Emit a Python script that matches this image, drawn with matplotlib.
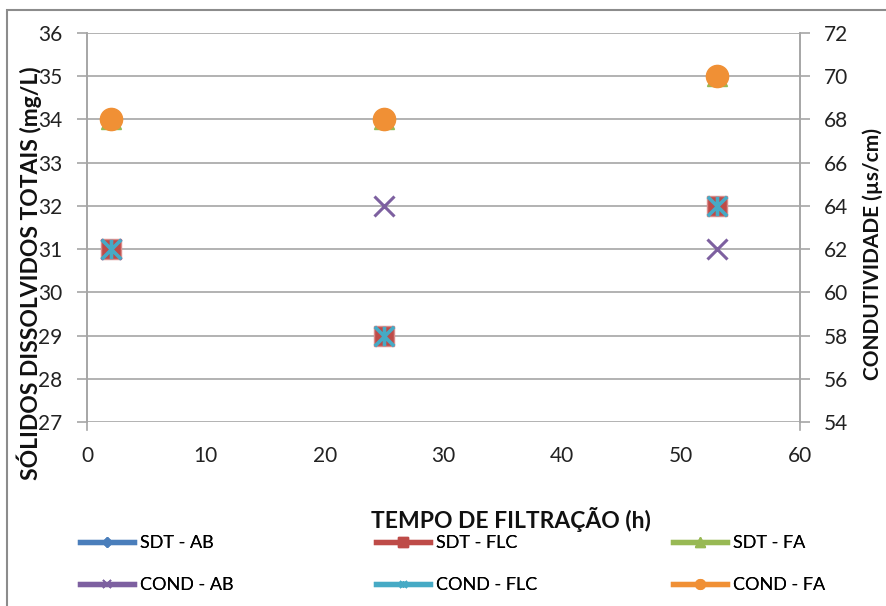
import matplotlib
matplotlib.use("Agg")
import matplotlib.pyplot as plt
from matplotlib.lines import Line2D
from matplotlib.patches import Rectangle
from matplotlib.path import Path

plt.rcParams['font.family'] = ['Lato', 'DejaVu Sans']

tempo = [2, 25, 53]
sdt_ab = [31, 29, 32]
sdt_flc = [31, 29, 32]
sdt_fa = [34, 34, 35]
cond_ab = [62, 64, 62]
cond_flc = [62, 58, 64]
cond_fa = [68, 68, 70]

x_ticks = [0, 10, 20, 30, 40, 50, 60]
y1_ticks = [27, 28, 29, 30, 31, 32, 33, 34, 35, 36]
y2_ticks = [54, 56, 58, 60, 62, 64, 66, 68, 70, 72]

c_blue = '#4A7EBB'
c_red = '#BE4B48'
c_green = '#98B954'
c_purple = '#7D60A0'
c_cyan = '#46AAC5'
c_orange = '#F09035'
grid_c = '#A6A6A6'

star = Path([(-1, -1), (1, 1), (-1, 1), (1, -1), (0, -1), (0, 1)],
            [Path.MOVETO, Path.LINETO, Path.MOVETO, Path.LINETO, Path.MOVETO, Path.LINETO])

fig = plt.figure(figsize=(8.87, 6.06), dpi=100)
W, H = 887, 606
ax = fig.add_axes([87 / W, 1 - 422 / H, (800 - 87) / W, (422 - 33) / H])
ax2 = ax.twinx()

ax.set_xlim(0, 60)
ax.set_ylim(27, 36)
ax2.set_ylim(54, 72)
ax.set_xticks(x_ticks)
ax.set_yticks(y1_ticks)
ax2.set_yticks(y2_ticks)
ax.grid(axis='y', color=grid_c, linewidth=1.2)
ax.set_axisbelow(True)

for a in (ax, ax2):
    for s in a.spines.values():
        s.set_color(grid_c)
        s.set_linewidth(1.2)
    a.spines['top'].set_visible(False)
    a.spines['bottom'].set_visible(False)
    a.tick_params(colors=grid_c, labelcolor='#222222', labelsize=15, length=7, width=1.2)
ax.tick_params(axis='y', pad=11)
ax2.tick_params(axis='y', pad=10)
ax.tick_params(axis='x', length=0, pad=17)

# small downward extension of the vertical axes below the plot
for xa in (0, 1):
    ax.add_line(Line2D([xa, xa], [0, -0.02], transform=ax.transAxes, color=grid_c,
                       linewidth=1.2, clip_on=False))

ms = 15
ax.plot(tempo, sdt_ab, linestyle='none', marker='D', markersize=ms * 0.6, color=c_blue, zorder=3)
ax.plot(tempo, sdt_flc, linestyle='none', marker='s', markersize=ms, color=c_red,
        markeredgecolor='#D98C8A', markeredgewidth=1, zorder=3)
ax.plot(tempo, sdt_fa, linestyle='none', marker='^', markersize=ms, color=c_green, zorder=3)
ax2.plot(tempo, cond_ab, linestyle='none', marker='x', markersize=ms - 1, color=c_purple,
         markeredgewidth=2.2, zorder=3)
ax2.plot(tempo, cond_flc, linestyle='none', marker=star, markersize=ms - 1, color=c_cyan,
         markeredgewidth=2.6, zorder=4)
ax2.plot(tempo, cond_fa, linestyle='none', marker='o', markersize=ms + 1, color=c_orange,
         markeredgecolor=c_orange, zorder=5)

fig.text(511 / W, 1 - 520 / H, 'TEMPO DE FILTRAÇÃO (h)', ha='center', va='center',
         fontsize=16.5, fontweight='bold', color='#111111')
fig.text(29 / W, 1 - 273 / H, 'SÓLIDOS DISSOLVIDOS TOTAIS (mg/L)', rotation=90,
         ha='center', va='center', fontsize=16.5, fontweight='bold', color='#111111')
fig.text(873 / W, 1 - 254 / H, 'CONDUTIVIDADE (µs/cm)', rotation=90,
         ha='center', va='center', fontsize=15, fontweight='bold', color='#111111')

lw = 3.8
handles = [
    (Line2D([], [], color=c_blue, lw=lw, marker='D', markersize=5), 'SDT - AB'),
    (Line2D([], [], color=c_purple, lw=lw, marker='x', markersize=6, markeredgewidth=1.2), 'COND - AB'),
    (Line2D([], [], color=c_red, lw=lw, marker='s', markersize=7), 'SDT - FLC'),
    (Line2D([], [], color=c_cyan, lw=lw, marker=star, markersize=5, markeredgewidth=1.2), 'COND - FLC'),
    (Line2D([], [], color=c_green, lw=lw, marker='^', markersize=7), 'SDT - FA'),
    (Line2D([], [], color=c_orange, lw=lw, marker='o', markersize=7), 'COND - FA'),
]
col_x = [80, 376, 673]
for i, xpos in enumerate(col_x):
    hs = handles[2 * i:2 * i + 2]
    leg = fig.legend([h for h, _ in hs], [l for _, l in hs], loc='upper left',
                     bbox_to_anchor=(xpos / W, 1 - 535 / H), frameon=False,
                     borderpad=0, borderaxespad=0, handlelength=3.0, handletextpad=0.3,
                     labelspacing=1.45, fontsize=13)
    fig.add_artist(leg)

fig.add_artist(Rectangle((7 / W, -0.05), 1.1, 1 - 10 / H + 0.05, transform=fig.transFigure,
                         fill=False, edgecolor='#8C8C8C', linewidth=1.5, clip_on=False))

fig.savefig('out.png', dpi=100)
